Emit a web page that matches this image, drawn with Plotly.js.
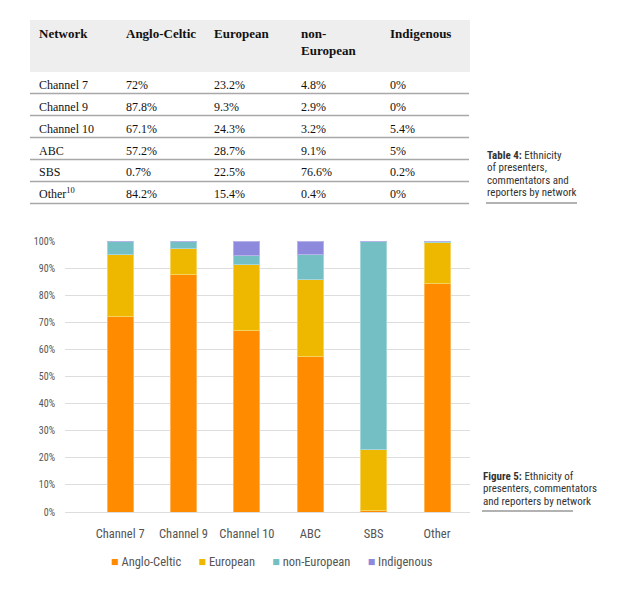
<!DOCTYPE html>
<html><head><meta charset="utf-8">
<script src="https://cdn.plot.ly/plotly-3.0.1.min.js"></script>
<style>html,body{margin:0;padding:0;background:#fff}#chart{width:619px;height:591px}</style>
</head><body><div id="chart"></div>
<script>
var networks = ["Channel 7", "Channel 9", "Channel 10", "ABC", "SBS", "Other"];
var tableNames = ["Channel 7", "Channel 9", "Channel 10", "ABC", "SBS", "Other<sup>10</sup>"];
var groups = ["Anglo-Celtic", "European", "non-European", "Indigenous"];
var headerLabels = ["Network", "Anglo-Celtic", "European", "non-<br>European", "Indigenous"];
var angloCeltic = [72, 87.8, 67.1, 57.2, 0.7, 84.2];
var european = [23.2, 9.3, 24.3, 28.7, 22.5, 15.4];
var nonEuropean = [4.8, 2.9, 3.2, 9.1, 76.6, 0.4];
var indigenous = [0, 0, 5.4, 5, 0.2, 0];
var yTicks = [0, 10, 20, 30, 40, 50, 60, 70, 80, 90, 100];
var tableCaption = ["<b>Table 4:</b> Ethnicity", "of presenters,", "commentators and", "reporters by network"];
var figureCaption = ["<b>Figure 5:</b> Ethnicity of", "presenters, commentators", "and reporters by network"];

var series = [angloCeltic, european, nonEuropean, indigenous];
var colors = ["#FF8C00", "#EFB800", "#73BFC4", "#8D89DC"];
var lineColors = ["#FFB55C", "#F6D35E", "#A5D7DA", "#B6B3EA"];

var condensed = "'Roboto Condensed', Roboto, sans-serif";
var serif = "'Liberation Serif', 'DejaVu Serif', serif";

// pixel -> paper helpers (plot area: x 65..470, y 241..512)
function px(x) { return (x - 65) / 405; }
function py(y) { return (512 - y) / 271; }

var traces = groups.map(function (g, i) {
  return {
    type: 'bar', name: g, x: networks, y: series[i],
    marker: {color: colors[i], line: {color: lineColors[i], width: 1}},
    hoverinfo: 'x+y+name', showlegend: false
  };
});

var shapes = [];
var annotations = [];
// table header background
shapes.push({type: 'rect', xref: 'paper', yref: 'paper', x0: px(30), x1: px(470), y0: py(72), y1: py(20),
  fillcolor: '#EEEEEE', line: {width: 0}, layer: 'below'});
var colX = [37, 124, 212, 299, 388];
headerLabels.forEach(function (h, j) {
  annotations.push({xref: 'paper', yref: 'paper', x: px(colX[j]), y: py(24), xanchor: 'left', yanchor: 'top',
    text: '<b>' + h + '</b>', showarrow: false, align: 'left',
    font: {family: serif, size: 13, color: '#111'}});
});
var rowY = [85, 106.5, 128.5, 150.5, 172, 194];
var rowLine = [93.5, 115.5, 137.5, 159.5, 181.5, 203.5];
networks.forEach(function (n, i) {
  var vals = [tableNames[i], angloCeltic[i] + '%', european[i] + '%', nonEuropean[i] + '%', indigenous[i] + '%'];
  vals.forEach(function (v, j) {
    annotations.push({xref: 'paper', yref: 'paper', x: px(colX[j]), y: py(rowY[i]), xanchor: 'left', yanchor: 'middle',
      text: v, showarrow: false, font: {family: serif, size: 12, color: '#111'}});
  });
  shapes.push({type: 'line', xref: 'paper', yref: 'paper', x0: px(30), x1: px(469), y0: py(rowLine[i]), y1: py(rowLine[i]),
    line: {color: '#A8A8A8', width: 1.5}});
});

// side captions, one annotation per line
tableCaption.forEach(function (t, k) {
  annotations.push({xref: 'paper', yref: 'paper', x: px(485), y: py(155 + k * 12.6), xanchor: 'left', yanchor: 'middle',
    showarrow: false, text: t, font: {family: condensed, size: 11, color: '#333'}});
});
shapes.push({type: 'line', xref: 'paper', yref: 'paper', x0: px(486), x1: px(577), y0: py(203), y1: py(203),
  line: {color: '#999', width: 1.5}});
figureCaption.forEach(function (t, k) {
  annotations.push({xref: 'paper', yref: 'paper', x: px(481), y: py(476 + k * 12.6), xanchor: 'left', yanchor: 'middle',
    showarrow: false, text: t, font: {family: condensed, size: 11, color: '#333'}});
});
shapes.push({type: 'line', xref: 'paper', yref: 'paper', x0: px(482), x1: px(573), y0: py(511), y1: py(511),
  line: {color: '#999', width: 1.5}});

// legend (built from the group names and colours)
var legendText = groups.map(function (g, i) {
  return '<span style="color:' + colors[i] + '">■</span> ' + g;
}).join('      ');
annotations.push({xref: 'paper', yref: 'paper', x: px(272), y: py(561), xanchor: 'center', yanchor: 'middle',
  showarrow: false, text: legendText, font: {family: condensed, size: 12.5, color: '#555'}});

var layout = {
  width: 619, height: 591,
  margin: {l: 65, r: 149, t: 241, b: 79, pad: 0, autoexpand: false},
  paper_bgcolor: '#fff', plot_bgcolor: '#fff',
  barmode: 'stack', bargap: 0.59,
  showlegend: false,
  xaxis: {range: [-0.87, 5.52], showgrid: false, zeroline: false, showline: false, ticks: '',
    tickfont: {family: condensed, size: 12.5, color: '#555'}, ticklabelstandoff: 12, fixedrange: true},
  yaxis: {range: [0, 100], tickvals: yTicks, ticktext: yTicks.map(function (t) { return t + '%'; }),
    showgrid: true, gridcolor: '#DDDDDD', gridwidth: 1, zeroline: true, zerolinecolor: '#DDDDDD', zerolinewidth: 1,
    showline: false, ticks: '', tickfont: {family: condensed, size: 10, color: '#555'}, ticklabelstandoff: 9,
    fixedrange: true},
  shapes: shapes,
  annotations: annotations,
  font: {family: condensed}
};
Plotly.newPlot('chart', traces, layout, {displayModeBar: false, staticPlot: true});
</script></body></html>
